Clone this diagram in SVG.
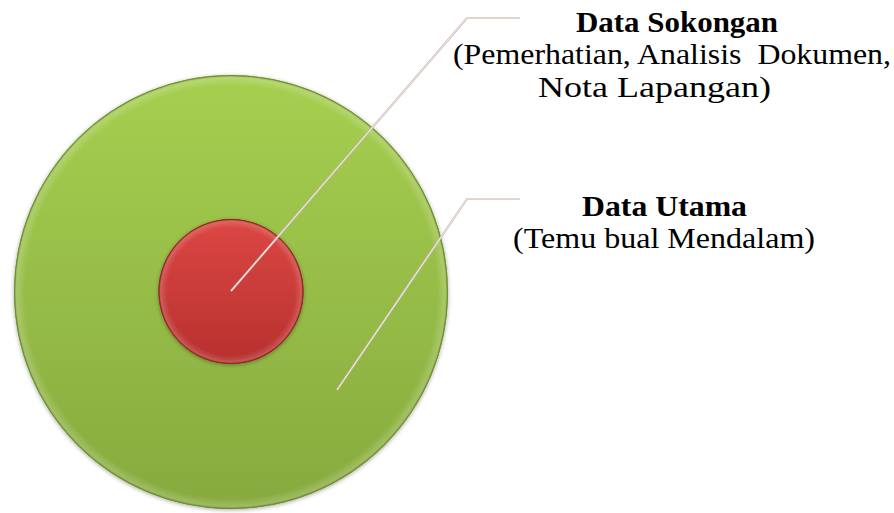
<svg xmlns="http://www.w3.org/2000/svg" width="894" height="513" viewBox="0 0 894 513">
<style>
.t{font-family:"Liberation Serif","Times New Roman",serif;font-size:30px;fill:#000;text-anchor:middle}
.b{font-weight:bold}
.c-out{fill:none;stroke:#cdb9bb;stroke-width:2.2;stroke-linejoin:miter}
.c-in{fill:none;stroke:#f3f0e2;stroke-width:1}
</style>
<defs>
<linearGradient id="gG" x1="0" y1="0" x2="0" y2="1">
<stop offset="0" stop-color="#a6cf50"/>
<stop offset="1" stop-color="#87aa3e"/>
</linearGradient>
<linearGradient id="gR" x1="0" y1="0" x2="0" y2="1">
<stop offset="0" stop-color="#dc4744"/>
<stop offset="1" stop-color="#b7302e"/>
</linearGradient>
<radialGradient id="bevG" cx="0.5" cy="0.5" r="0.5">
<stop offset="0.95" stop-color="#ffffff" stop-opacity="0"/>
<stop offset="0.985" stop-color="#ffffff" stop-opacity="0.18"/>
<stop offset="1" stop-color="#4f6a1e" stop-opacity="0.5"/>
</radialGradient>
<radialGradient id="bevR" cx="0.5" cy="0.5" r="0.5">
<stop offset="0.88" stop-color="#ffffff" stop-opacity="0"/>
<stop offset="0.95" stop-color="#ffffff" stop-opacity="0.12"/>
<stop offset="1" stop-color="#7a1a12" stop-opacity="0.6"/>
</radialGradient>
<filter id="sh" x="-10%" y="-10%" width="120%" height="120%">
<feGaussianBlur in="SourceAlpha" stdDeviation="2"/>
<feOffset dy="1" result="b"/>
<feComponentTransfer><feFuncA type="linear" slope="0.35"/></feComponentTransfer>
<feMerge><feMergeNode/><feMergeNode in="SourceGraphic"/></feMerge>
</filter>
</defs>
<g id="outer">
<circle cx="231" cy="292" r="217" fill="url(#gG)" filter="url(#sh)"/>
<circle cx="231" cy="292" r="217" fill="url(#bevG)"/>
<circle cx="231" cy="292" r="216.5" fill="none" stroke="#6f8f2c" stroke-width="1"/>
</g>
<g id="inner">
<circle cx="231" cy="291.5" r="72.5" fill="url(#gR)" filter="url(#sh)"/>
<circle cx="231" cy="291.5" r="72.5" fill="url(#bevR)"/>
<circle cx="231" cy="291.5" r="72" fill="none" stroke="#8e2a1e" stroke-width="1"/>
</g>
<g id="connectors">
<path class="c-out" d="M231,291 L467,18 L520,18"/>
<path class="c-in" d="M231,291 L467,18 L520,18"/>
<path class="c-out" d="M337,390 L467,199 L520,199"/>
<path class="c-in" d="M337,390 L467,199 L520,199"/>
</g>
<g id="label-sokongan">
<text class="t b" x="677" y="32" textLength="202" lengthAdjust="spacingAndGlyphs">Data Sokongan</text>
<text class="t" x="672" y="64" textLength="438" lengthAdjust="spacingAndGlyphs" xml:space="preserve">(Pemerhatian, Analisis  Dokumen,</text>
<text class="t" x="654.5" y="97" textLength="233" lengthAdjust="spacingAndGlyphs">Nota Lapangan)</text>
</g>
<g id="label-utama">
<text class="t b" x="664.5" y="216" textLength="165" lengthAdjust="spacingAndGlyphs">Data Utama</text>
<text class="t" x="664" y="248" textLength="302" lengthAdjust="spacingAndGlyphs">(Temu bual Mendalam)</text>
</g>
</svg>
